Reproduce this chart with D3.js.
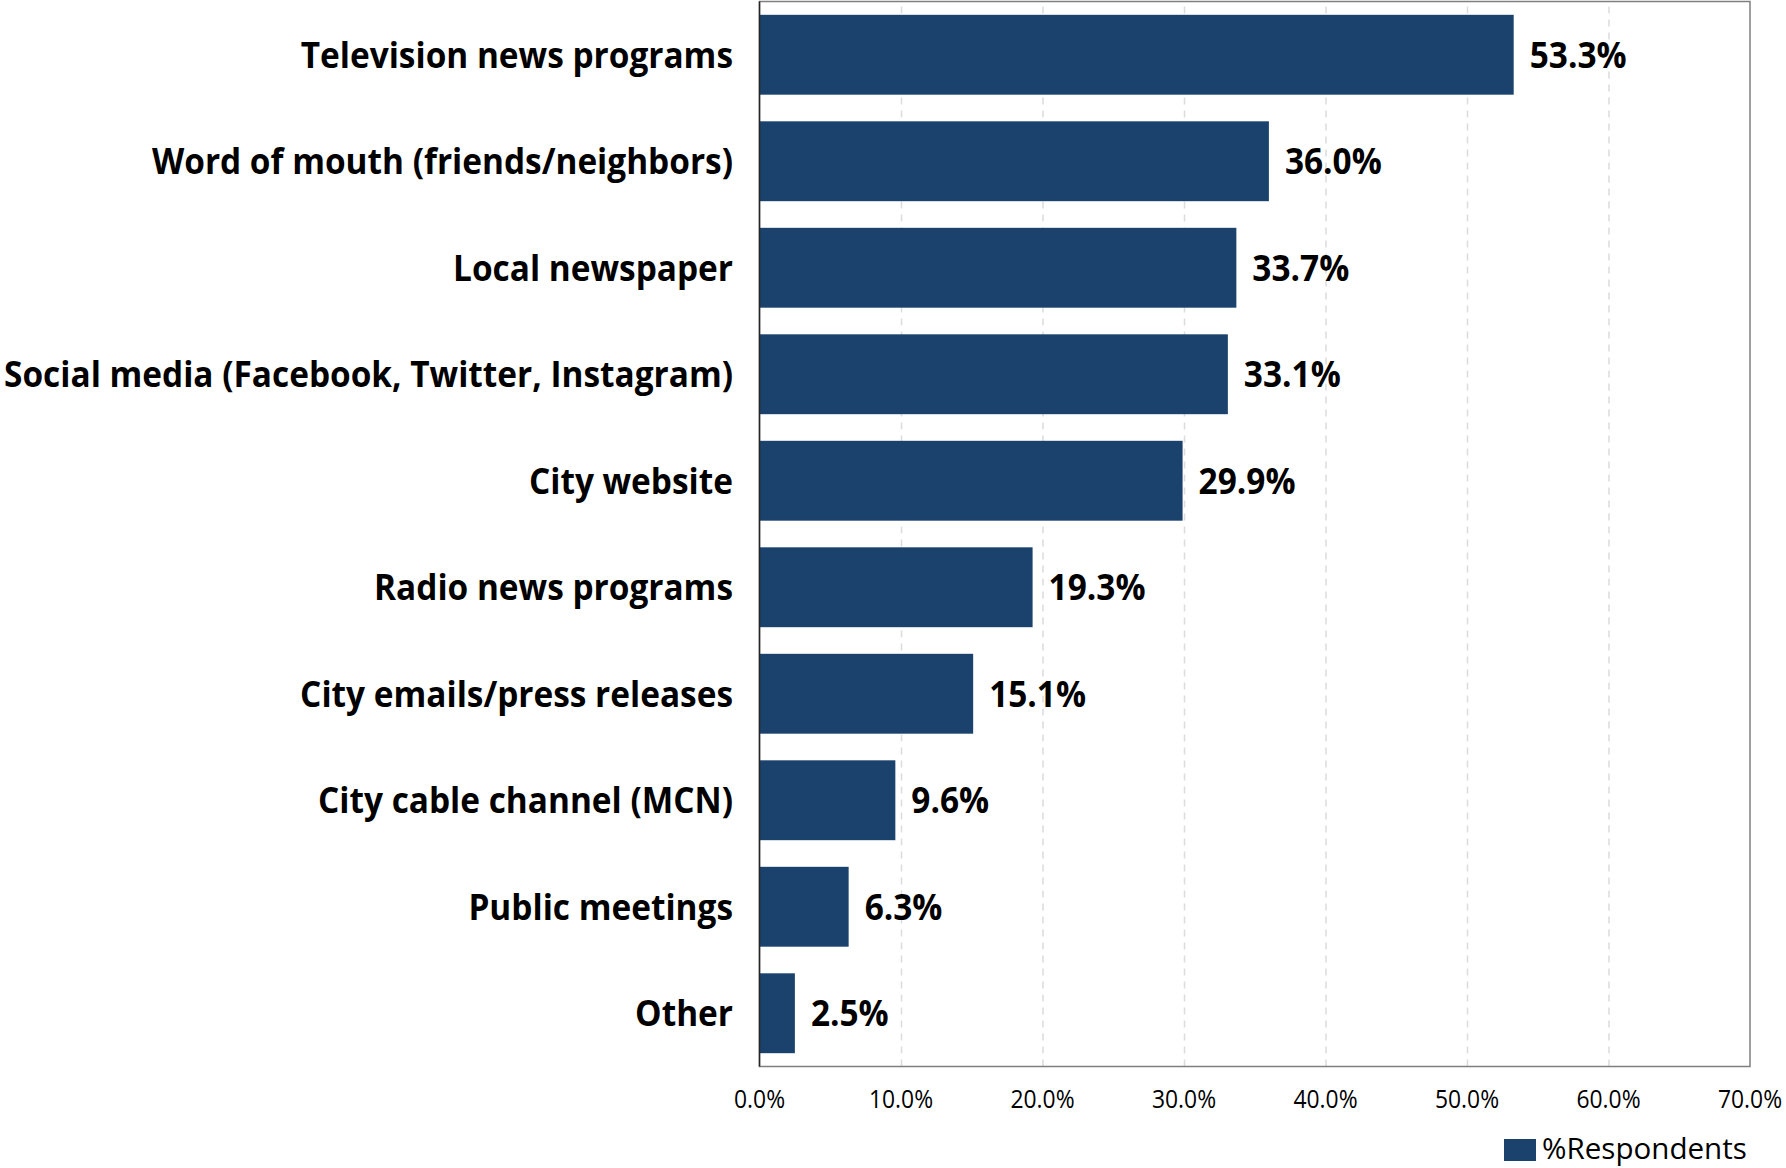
<!DOCTYPE html>
<html>
<head>
<meta charset="utf-8">
<script src="https://cdn.jsdelivr.net/npm/d3@7"></script>
<style>
body { margin: 0; background: #fff; }
svg { display: block; }
</style>
</head>
<body>
<svg id="chart" width="1786" height="1168"></svg>
<script>
const categories = [
	"Television news programs",
	"Word of mouth (friends/neighbors)",
	"Local newspaper",
	"Social media (Facebook, Twitter, Instagram)",
	"City website",
	"Radio news programs",
	"City emails/press releases",
	"City cable channel (MCN)",
	"Public meetings",
	"Other"
];
const values = [53.3, 36.0, 33.7, 33.1, 29.9, 19.3, 15.1, 9.6, 6.3, 2.5];
const tickValues = [0, 10, 20, 30, 40, 50, 60, 70];
const seriesName = "%Respondents";

const barColor = "#1b426d";
const fontFamily = "'Open Sans', 'Noto Sans', sans-serif";

const plotLeft = 759.5, plotRight = 1750, plotTop = 1.5, plotBottom = 1066.5;
const labelRight = 733;
const labelSpace = 729;

const chart = d3.select("#chart");

const x = d3.scaleLinear().domain([0, 70]).range([plotLeft, plotRight]);
const y = d3.scaleBand().domain(categories).range([plotTop, plotBottom])
	.paddingInner(0.25).paddingOuter(0.125);

// dashed grid
const grid = chart.append("g")
	.attr("transform", "translate(0," + plotBottom + ")")
	.call(d3.axisBottom(x).tickValues(tickValues.slice(1, -1)).tickSize(-(plotBottom - plotTop)).tickFormat(""));
grid.select(".domain").remove();
grid.selectAll("line")
	.attr("stroke", "#dcdcdc")
	.attr("stroke-width", 1.5)
	.attr("stroke-dasharray", "7,6");

// plot border
chart.append("rect")
	.attr("x", plotLeft).attr("y", plotTop)
	.attr("width", plotRight - plotLeft).attr("height", plotBottom - plotTop)
	.attr("fill", "none")
	.attr("stroke", "#7f7f7f")
	.attr("stroke-width", 1.5);

// bars
chart.append("g").selectAll("rect")
	.data(values)
	.enter()
	.append("rect")
	.attr("x", x(0))
	.attr("y", (d, i) => y(categories[i]))
	.attr("width", d => x(d) - x(0))
	.attr("height", y.bandwidth())
	.attr("fill", barColor);

// left axis line
chart.append("line")
	.attr("x1", plotLeft).attr("x2", plotLeft)
	.attr("y1", plotTop).attr("y2", plotBottom)
	.attr("stroke", "#262626")
	.attr("stroke-width", 1.5);

// narrow the text a bit, the original font is a condensed one
function squeezed(sel, k, px, py) {
	sel.attr("x", 0).attr("y", 0)
		.attr("transform", (d, i) => "translate(" + px(d, i) + "," + py(d, i) + ") scale(" + k + ",1)");
}

// category labels
const catLabels = chart.append("g").selectAll("text")
	.data(categories)
	.enter()
	.append("text")
	.text(d => d)
	.attr("text-anchor", "end")
	.attr("font-family", fontFamily)
	.attr("font-weight", "bold")
	.attr("font-size", 36)
	.attr("fill", "#000");

let widest = 0;
catLabels.each(function() { widest = Math.max(widest, this.getComputedTextLength()); });
const k = Math.min(1, labelSpace / widest);
catLabels.call(squeezed, k, () => labelRight, d => y(d) + y.bandwidth() / 2 + 13);

// value labels
chart.append("g").selectAll("text")
	.data(values)
	.enter()
	.append("text")
	.text(d => d.toFixed(1) + "%")
	.attr("font-family", fontFamily)
	.attr("font-weight", "bold")
	.attr("font-size", 36)
	.attr("fill", "#000")
	.call(squeezed, k, d => x(d) + 16, (d, i) => y(categories[i]) + y.bandwidth() / 2 + 13);

// x tick labels
chart.append("g").selectAll("text")
	.data(tickValues)
	.enter()
	.append("text")
	.text(d => d.toFixed(1) + "%")
	.attr("text-anchor", "middle")
	.attr("font-family", fontFamily)
	.attr("font-size", 26)
	.attr("fill", "#000")
	.call(squeezed, 0.88, d => x(d), () => 1108);

// legend
const legend = chart.append("g");
legend.append("rect")
	.attr("x", 1504).attr("y", 1139)
	.attr("width", 32).attr("height", 22)
	.attr("fill", barColor);
legend.append("text")
	.datum(seriesName)
	.text(d => d)
	.attr("font-family", fontFamily)
	.attr("font-size", 29)
	.attr("fill", "#000")
	.call(squeezed, 1.02, () => 1542, () => 1159);
</script>
</body>
</html>
